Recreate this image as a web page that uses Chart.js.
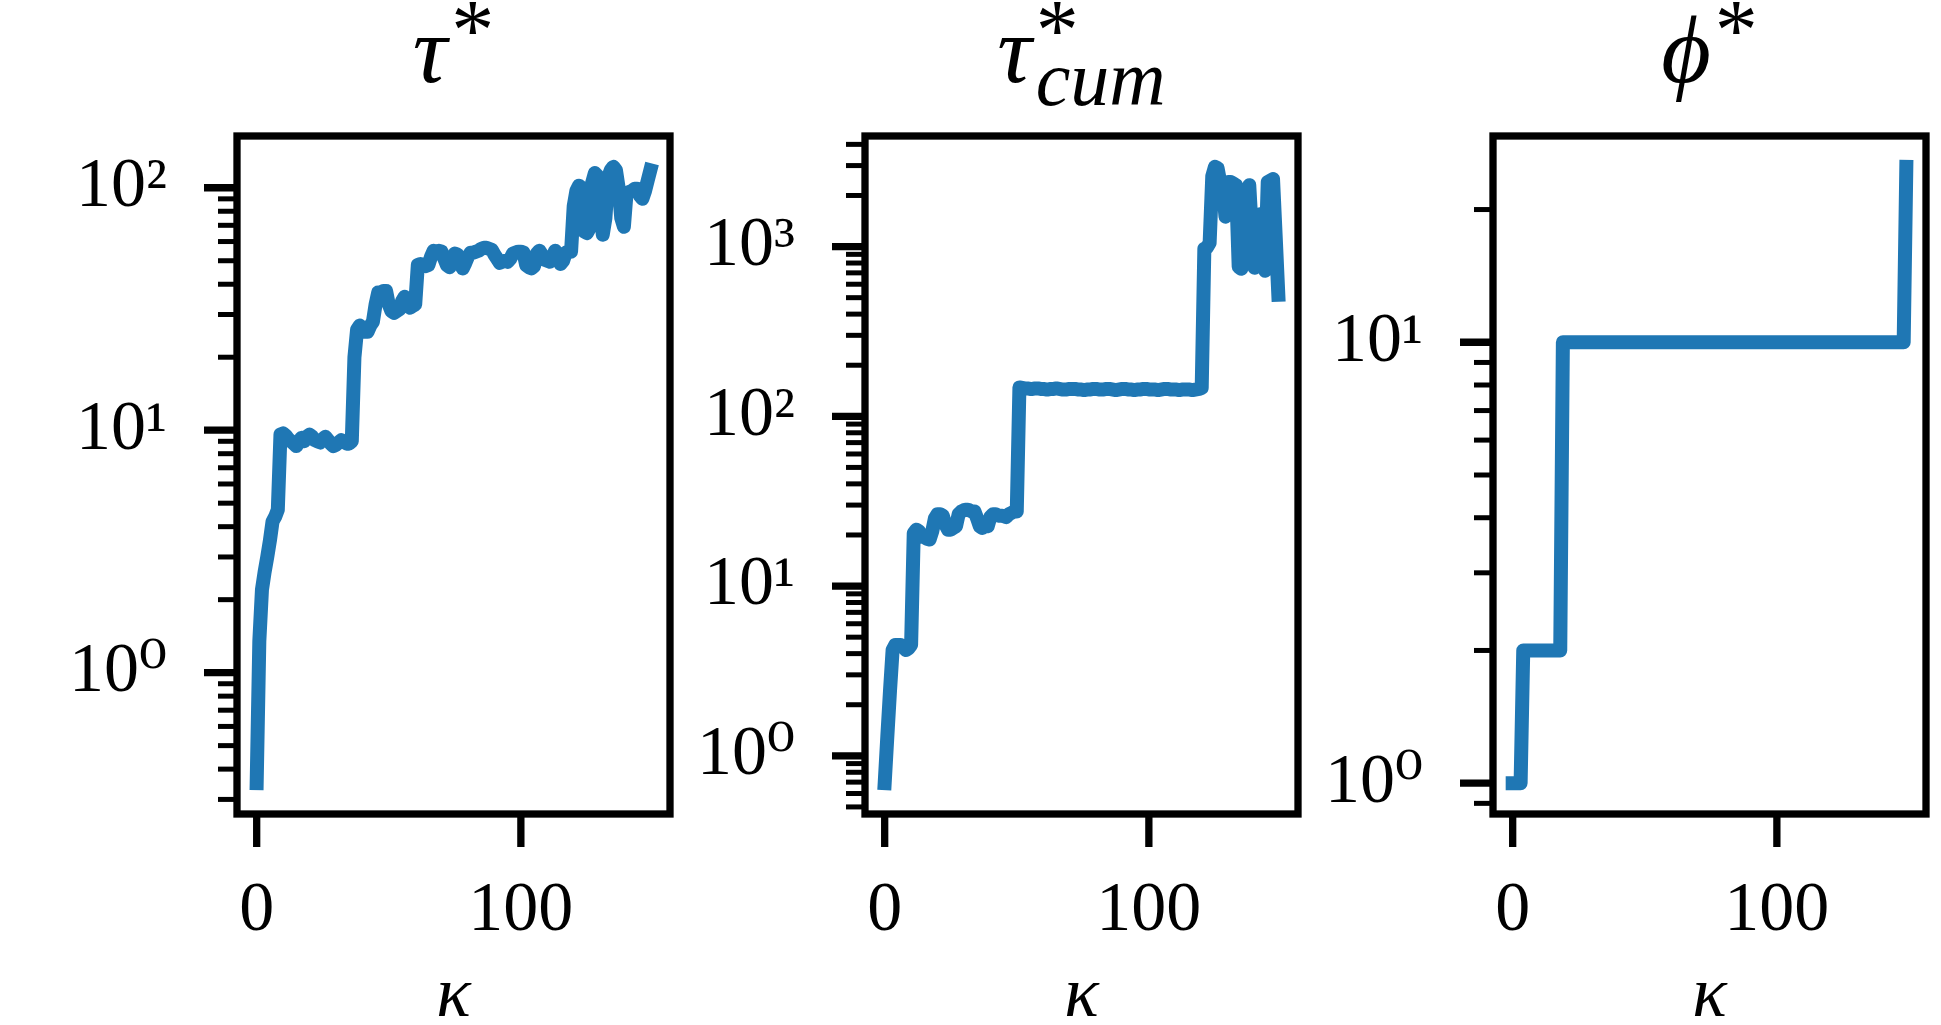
<!DOCTYPE html>
<html><head><meta charset="utf-8">
<script src="https://cdn.jsdelivr.net/npm/chart.js@4.4.0/dist/chart.umd.min.js"></script>
<style>
html,body{margin:0;padding:0;background:#fff;width:1941px;height:1025px;overflow:hidden;position:relative;}
.wrap{position:absolute;top:0;width:680px;height:1060px;}
canvas{display:block;}
.ttl{position:absolute;top:2px;transform:translateX(-50%);font-family:'Liberation Serif','DejaVu Serif',serif;font-style:italic;font-size:96px;line-height:1;white-space:nowrap;color:#000;}
.sup{display:inline-block;font-style:normal;font-size:86px;position:relative;top:-23px;margin-left:4px;}
.z{width:0;}
.sub{display:inline-block;font-size:78px;position:relative;top:23px;}
</style></head>
<body>
<div class="wrap" style="left:0px"><canvas id="c1" width="680" height="1060"></canvas></div>
<div class="wrap" style="left:628px"><canvas id="c2" width="680" height="1060"></canvas></div>
<div class="wrap" style="left:1256px"><canvas id="c3" width="680" height="1060"></canvas></div>
<div class="ttl" style="left:453.5px">τ<span class="sup">*</span></div>
<div class="ttl" style="left:1081.5px">τ<span class="sup z">*</span><span class="sub">cum</span></div>
<div class="ttl" style="left:1709.5px">ϕ<span class="sup">*</span></div>
<script>
// ---- data ----
const kappa = [
  0,1,2,3,4,5,6,7,8,9,
  10,11,12,13,14,15,16,17,18,19,
  20,21,22,23,24,25,26,27,28,29,
  30,31,32,33,34,35,36,37,38,39,
  40,41,42,43,44,45,46,47,48,49,
  50,51,52,53,54,55,56,57,58,59,
  60,61,62,63,64,65,66,67,68,69,
  70,71,72,73,74,75,76,77,78,79,
  80,81,82,83,84,85,86,87,88,89,
  90,91,92,93,94,95,96,97,98,99,
  100,101,102,103,104,105,106,107,108,109,
  110,111,112,113,114,115,116,117,118,119,
  120,121,122,123,124,125,126,127,128,129,
  130,131,132,133,134,135,136,137,138,139,
  140,141,142,143,144,145,146,147,148,149
];
const tauStar = [
  0.35,1.35,2.2,2.6,3.0,3.5,4.2,4.4,4.7,9.6,
  9.7,9.5,9.2,9.0,8.8,8.6,9.0,9.3,9.0,9.4,
  9.6,9.4,9.1,9.0,8.9,9.2,9.4,9.1,8.8,8.6,
  8.7,8.9,9.1,9.0,8.8,8.8,9.0,20,26,27,
  26.5,25.5,25.5,27,28,33,37,37,37.5,37.5,
  33,31,30.5,31,31.5,34,35.5,33.5,32,32.5,
  33,48,48.5,48,47.5,48,52,55,54.5,55,
  54.5,51,48,47,50,53.5,53,49,46.5,49,
  52,54,54,54.5,55,56,56.5,56.5,56,55.5,
  53,51,49,49.5,50,49.5,51,53.5,54,54.5,
  54.5,54,48,47,46.5,47.5,53.5,55,53,50.5,
  50,49.5,52,55,52,48.5,50,54,54.5,54.5,
  84,97,102,100,66,65,68,105,115,112,
  90,64,75,110,118,122,118,100,75,69,
  95,96,97,99,99,93,90,97,107,118
];
const tauCum = [
  0.69,1.3,2.4,4.2,4.5,4.5,4.5,4.4,4.2,4.3,
  4.5,20.5,21.5,21.0,19.5,19.5,19.0,18.8,21.0,25.0,
  26.5,26.5,26.0,23.0,21.5,21.5,22.0,22.5,26.5,27.5,
  28.0,28.2,28.0,27.5,27.5,25.0,22.5,22.0,23.0,22.5,
  25.5,26.5,26.5,26.0,26.0,25.8,25.5,26.5,27.0,27.5,
  27.5,148,147,146,146,145,145,146,146,145,
  145,144,144,145,145,146,145,144,144,144,
  145,145,145,144,144,143,143,144,144,145,
  145,144,144,144,145,145,144,143,143,144,
  145,145,144,144,143,143,144,144,145,145,
  144,144,144,143,143,144,145,145,144,144,
  144,143,143,144,144,144,143,143,144,145,
  147,970,990,1050,2600,2950,2900,2400,2200,1500,
  2400,2400,2350,2300,760,740,1200,1900,2300,1200,
  750,1100,1550,1000,720,2400,2450,2500,1150,520
];
const phiStar = [
  1,1,1,1,2,2,2,2,2,2,
  2,2,2,2,2,2,2,2,2,10,
  10,10,10,10,10,10,10,10,10,10,
  10,10,10,10,10,10,10,10,10,10,
  10,10,10,10,10,10,10,10,10,10,
  10,10,10,10,10,10,10,10,10,10,
  10,10,10,10,10,10,10,10,10,10,
  10,10,10,10,10,10,10,10,10,10,
  10,10,10,10,10,10,10,10,10,10,
  10,10,10,10,10,10,10,10,10,10,
  10,10,10,10,10,10,10,10,10,10,
  10,10,10,10,10,10,10,10,10,10,
  10,10,10,10,10,10,10,10,10,10,
  10,10,10,10,10,10,10,10,10,10,
  10,10,10,10,10,10,10,10,10,25
];
const xTickValues = [0, 100];
const xTitle = 'κ';
const supDigits = {'-1':'⁻¹','0':'⁰','1':'¹','2':'²','3':'³','4':'⁴'};

// ---- layout constants ----
const AREA_LEFT = 237, AREA_TOP = 136, AREA_BOTTOM = 814, CANVAS_H = 1060, PAD_RIGHT = 10;
const SERIF = "'Liberation Serif','DejaVu Serif',serif";
const BLUE = '#1f77b4';

function logLimits(vals){
  const lo = Math.log10(Math.min(...vals)), hi = Math.log10(Math.max(...vals));
  const m = 0.05*(hi-lo);
  return [Math.pow(10, lo-m), Math.pow(10, hi+m)];
}
function linLimits(vals){
  const lo = Math.min(...vals), hi = Math.max(...vals), m = 0.05*(hi-lo);
  return [lo-m, hi+m];
}

const axesPlugin = {
  id: 'mplAxes',
  afterDatasetsDraw(chart){
    const ctx = chart.ctx, a = chart.chartArea, ys = chart.scales.y, xs = chart.scales.x;
    ctx.save();
    ctx.strokeStyle = '#000';
    ctx.lineCap = 'butt';
    const e0 = Math.floor(Math.log10(ys.min)), e1 = Math.ceil(Math.log10(ys.max));
    for (let e = e0; e <= e1; e++) {
      for (let m = 1; m <= 9; m++) {
        const v = m*Math.pow(10, e);
        if (v < ys.min || v > ys.max) continue;
        const y = ys.getPixelForValue(v);
        const major = (m === 1);
        ctx.lineWidth = major ? 7.3 : 5;
        ctx.beginPath();
        ctx.moveTo(a.left - (major ? 33 : 19), y);
        ctx.lineTo(a.left, y);
        ctx.stroke();
      }
    }
    ctx.lineWidth = 7.3;
    xTickValues.forEach(v => {
      const x = xs.getPixelForValue(v);
      ctx.beginPath();
      ctx.moveTo(x, a.bottom);
      ctx.lineTo(x, a.bottom + 33);
      ctx.stroke();
    });
    ctx.lineWidth = 7.3;
    ctx.lineJoin = 'miter';
    ctx.strokeRect(a.left, a.top, a.right - a.left, a.bottom - a.top);
    ctx.restore();
  }
};

function makeChart(id, values){
  const [ymin, ymax] = logLimits(values);
  const [xmin, xmax] = linLimits(kappa);
  return new Chart(document.getElementById(id), {
    type: 'line',
    data: {
      labels: kappa,
      datasets: [{
        data: values,
        borderColor: BLUE,
        borderWidth: 14,
        pointRadius: 0,
        tension: 0,
        fill: false,
        borderCapStyle: 'square',
        borderJoinStyle: 'round',
        clip: 0
      }]
    },
    options: {
      responsive: false,
      animation: false,
      events: [],
      layout: {padding: {left: 0, right: PAD_RIGHT, top: AREA_TOP, bottom: 0}},
      plugins: {legend: {display: false}, tooltip: {enabled: false}, title: {display: false}},
      scales: {
        x: {
          type: 'linear', min: xmin, max: xmax,
          grid: {display: false, drawTicks: false, tickLength: 0},
          border: {display: false},
          afterBuildTicks: s => { s.ticks = xTickValues.map(v => ({value: v})); },
          afterFit: s => { s.height = CANVAS_H - AREA_BOTTOM; },
          ticks: {autoSkip: false, maxRotation: 0, padding: 56, color: '#000',
                  font: {family: SERIF, size: 70}, callback: v => String(v)},
          title: {display: true, text: xTitle, color: '#000',
                  font: {family: SERIF, style: 'italic', size: 72},
                  padding: {top: 0, bottom: 20}}
        },
        y: {
          type: 'logarithmic', min: ymin, max: ymax,
          grid: {display: false, drawTicks: false, tickLength: 0},
          border: {display: false},
          afterBuildTicks: s => {
            const t = [];
            for (let e = Math.ceil(Math.log10(ymin)); e <= Math.floor(Math.log10(ymax)); e++) t.push({value: Math.pow(10, e)});
            s.ticks = t;
          },
          afterFit: s => { s.width = AREA_LEFT; },
          ticks: {autoSkip: false, padding: 70, color: '#000',
                  font: {family: SERIF, size: 70},
                  callback: v => '10' + supDigits[String(Math.round(Math.log10(v)))]}
        }
      }
    },
    plugins: [axesPlugin]
  });
}

makeChart('c1', tauStar);
makeChart('c2', tauCum);
makeChart('c3', phiStar);
</script>
</body></html>
